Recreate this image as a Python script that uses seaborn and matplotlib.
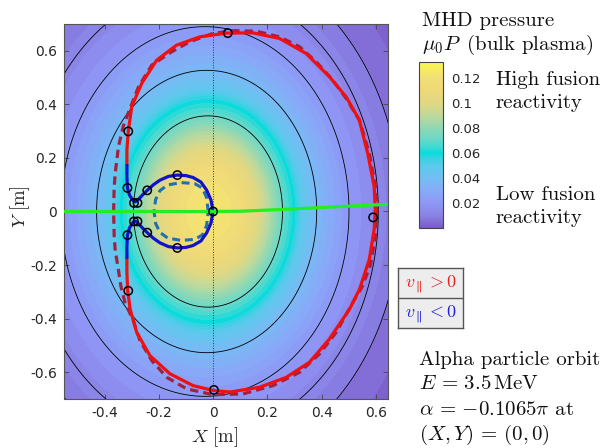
import numpy as np
import matplotlib
matplotlib.use("Agg")
import matplotlib.pyplot as plt
from matplotlib.colors import LinearSegmentedColormap, Normalize
from matplotlib.cm import ScalarMappable
import seaborn as sns

# ---------------- data ----------------
x_ticks = [-0.4, -0.2, 0, 0.2, 0.4, 0.6]
x_tick_labels = ["-0.4", "-0.2", "0", "0.2", "0.4", "0.6"]
y_ticks = [-0.6, -0.4, -0.2, 0, 0.2, 0.4, 0.6]
y_tick_labels = ["-0.6", "-0.4", "-0.2", "0", "0.2", "0.4", "0.6"]
cbar_ticks = [0.02, 0.04, 0.06, 0.08, 0.1, 0.12]
cbar_tick_labels = ["0.02", "0.04", "0.06", "0.08", "0.1", "0.12"]

# bulk-plasma pressure vs flux-surface label (vertical half height, m)
profile_rho = [0.0, 0.08, 0.15, 0.22, 0.28, 0.33, 0.37, 0.41, 0.45, 0.50,
               0.55, 0.60, 0.67, 0.75, 0.84, 0.95, 1.10, 1.30]
profile_p = [0.124, 0.122, 0.115, 0.103, 0.090, 0.077, 0.068, 0.060, 0.049,
             0.040, 0.034, 0.029, 0.022, 0.017, 0.012, 0.007, 0.003, 0.0]
# flux surfaces drawn as black lines (vertical half heights, m)
surface_levels = [0.357, 0.527, 0.69, 0.84, 0.955]
surface_elong = 0.77            # horizontal / vertical semi-axis ratio
surface_shift = [-0.015, -0.032]  # centre = c0 + c2 * rho^2

# orbit, v_par > 0 part (red)
red_x = [-0.318, -0.318, -0.315, -0.306, -0.282, -0.233, -0.159, -0.074, 0.0,
         0.061, 0.172, 0.270, 0.355, 0.429, 0.503, 0.540, 0.576, 0.594, 0.598,
         0.594, 0.570, 0.539, 0.490, 0.429, 0.343, 0.245, 0.147, 0.049, -0.049,
         -0.135, -0.208, -0.263, -0.300, -0.313, -0.318, -0.318]
red_y = [-0.172, -0.230, -0.296, -0.365, -0.451, -0.538, -0.606, -0.650, -0.668,
         -0.674, -0.656, -0.619, -0.563, -0.476, -0.365, -0.290, -0.179, -0.067,
         0.007, 0.094, 0.218, 0.342, 0.429, 0.503, 0.590, 0.646, 0.667, 0.666,
         0.652, 0.621, 0.565, 0.479, 0.392, 0.299, 0.230, 0.172]
# orbit, v_par < 0 part (blue)
blue_x = [-0.318, -0.318, -0.316, -0.308, -0.296, -0.287, -0.275, -0.260, -0.243,
          -0.220, -0.196, -0.165, -0.132, -0.100, -0.074, -0.045, -0.024, -0.008,
          0.0, -0.008, -0.024, -0.045, -0.074, -0.100, -0.132, -0.165, -0.196,
          -0.220, -0.243, -0.260, -0.275, -0.287, -0.296, -0.308, -0.316, -0.318,
          -0.318]
blue_y = [0.172, 0.130, 0.088, 0.060, 0.042, 0.036, 0.046, 0.062, 0.079, 0.100,
          0.117, 0.131, 0.136, 0.134, 0.127, 0.110, 0.080, 0.043, 0.0, -0.043,
          -0.080, -0.110, -0.127, -0.134, -0.136, -0.131, -0.117, -0.100, -0.079,
          -0.062, -0.046, -0.036, -0.042, -0.060, -0.088, -0.130, -0.172]
# dashed reference orbits
outer_dash_x = [-0.367, -0.365, -0.361, -0.349, -0.331, -0.306, -0.275, -0.226,
                -0.153, -0.086, 0.0, 0.08, 0.16, 0.245, 0.319, 0.38, 0.441, 0.49,
                0.54, 0.575, 0.598, 0.604, 0.598, 0.58, 0.55, 0.515, 0.454, 0.392,
                0.319, 0.221, 0.11, 0.0, -0.098, -0.171, -0.226, -0.27, -0.294,
                -0.325, -0.34, -0.352, -0.361, -0.365, -0.367]
outer_dash_y = [0.0, 0.09, 0.144, 0.243, 0.32, 0.386, 0.466, 0.547, 0.596, 0.634,
                0.665, 0.675, 0.673, 0.652, 0.615, 0.559, 0.491, 0.423, 0.34,
                0.22, 0.1, 0.0, -0.1, -0.2, -0.28, -0.34, -0.451, -0.532, -0.6,
                -0.65, -0.681, -0.684, -0.662, -0.619, -0.557, -0.482, -0.408,
                -0.34, -0.28, -0.2, -0.147, -0.09, 0.0]
inner_dash_x = [-0.018, -0.024, -0.040, -0.068, -0.118, -0.168, -0.196, -0.212,
                -0.218, -0.212, -0.196, -0.168, -0.118, -0.068, -0.040, -0.024,
                -0.018]
inner_dash_y = [0.0, 0.052, 0.088, 0.104, 0.108, 0.099, 0.078, 0.045, 0.0,
                -0.045, -0.078, -0.099, -0.108, -0.104, -0.088, -0.052, 0.0]
# alpha = const line (green)
green_x = [-0.55, 0.0, 0.10, 0.25, 0.40, 0.645]
green_y = [0.0, 0.0, 0.001, 0.0075, 0.015, 0.027]
# marker circles
circ_x = [0.054, 0.59, 0.003, -0.313, -0.313, -0.316, -0.316, -0.292, -0.279,
          -0.292, -0.279, -0.243, -0.243, -0.132, -0.132, 0.0]
circ_y = [0.666, -0.022, -0.666, 0.299, -0.296, 0.088, -0.088, 0.032, 0.032,
          -0.037, -0.037, 0.079, -0.079, 0.136, -0.136, 0.0]

# ---------------- style ----------------
sns.set_style("ticks")
plt.rcParams["mathtext.fontset"] = "cm"
plt.rcParams["font.family"] = ["DejaVu Sans"]
plt.rcParams["axes.unicode_minus"] = False

cmap = LinearSegmentedColormap.from_list("pres", [
    (0.000, "#7A5CC8"), (0.010 / 0.133, "#8A82E6"), (0.020 / 0.133, "#8E98F6"),
    (0.030 / 0.133, "#86ACF8"), (0.040 / 0.133, "#72BEF2"), (0.050 / 0.133, "#5ACAEC"),
    (0.056 / 0.133, "#36D2E2"), (0.060 / 0.133, "#06DCDC"), (0.064 / 0.133, "#38D9D4"),
    (0.070 / 0.133, "#64D8CA"), (0.080 / 0.133, "#90D8B4"), (0.090 / 0.133, "#BDD99C"),
    (0.100 / 0.133, "#E0D882"), (0.110 / 0.133, "#EED878"), (0.120 / 0.133, "#F2DE78"),
    (0.127 / 0.133, "#F6EA62"), (1.0, "#F8F84E")])
norm = Normalize(0.0, 0.133)

W, H = 616, 448
fig = plt.figure(figsize=(W / 100, H / 100), dpi=100)
ax = fig.add_axes([64 / W, 49 / H, 324 / W, 375 / H])

# field on a grid
gx = np.linspace(-0.57, 0.67, 420)
gy = np.linspace(-0.72, 0.72, 480)
GX, GY = np.meshgrid(gx, gy)
rho = np.hypot(GX / surface_elong, GY)
for _ in range(30):
    cen = surface_shift[0] + surface_shift[1] * rho ** 2
    rho = np.hypot((GX - cen) / surface_elong, GY)
P = np.interp(rho, profile_rho, profile_p)

ax.contourf(GX, GY, P, levels=np.linspace(0, 0.133, 40), cmap=cmap, norm=norm,
            antialiased=False, zorder=0)
ax.contour(GX, GY, rho, levels=surface_levels, colors="black", linewidths=0.6,
           zorder=1)
ax.axvline(0, color="#333333", lw=0.7, ls=(0, (1, 1.6)), zorder=2)

# dashed orbits
sns.lineplot(x=outer_dash_x, y=outer_dash_y, sort=False, estimator=None,
             color="#A32040", lw=2.3, ax=ax, legend=False, zorder=3)
ax.lines[-1].set_dashes([2.6, 1.6])
sns.lineplot(x=inner_dash_x, y=inner_dash_y, sort=False, estimator=None,
             color="#2070B0", lw=2.2, ax=ax, legend=False, zorder=3)
ax.lines[-1].set_dashes([2.6, 1.6])
# solid orbit
sns.lineplot(x=red_x, y=red_y, sort=False, estimator=None, color="#F01010",
             lw=2.3, ax=ax, legend=False, zorder=4)
sns.lineplot(x=blue_x, y=blue_y, sort=False, estimator=None, color="#1212CC",
             lw=2.3, ax=ax, legend=False, zorder=4)
sns.lineplot(x=green_x, y=green_y, sort=False, estimator=None, color="#22EE22",
             lw=2.3, ax=ax, legend=False, zorder=5)
ax.scatter(circ_x, circ_y, s=36, facecolors="none", edgecolors="black",
           linewidths=1.1, zorder=6)

ax.set_xlim(-0.55, 0.645)
ax.set_ylim(-0.70, 0.70)
ax.set_xticks(x_ticks)
ax.set_xticklabels(x_tick_labels)
ax.set_yticks(y_ticks)
ax.set_yticklabels(y_tick_labels)
ax.tick_params(direction="in", length=3.5, width=0.6, color="#444444",
               labelsize=10, labelcolor="#262626", top=True, right=True, pad=5)
for s in ax.spines.values():
    s.set_color("#555555")
    s.set_linewidth(0.8)
ax.set_xlabel(r"$X$ [m]", fontsize=13.5, family="cmr10", va="center")
ax.set_ylabel(r"$Y$ [m]", fontsize=13.5, family="cmr10")
ax.xaxis.set_label_coords(0.465, -0.102)
ax.yaxis.set_label_coords(-0.10, 0.512)

# colorbar
cax = fig.add_axes([419 / W, 1 - 228 / H, 24 / W, 166 / H])
cb = fig.colorbar(ScalarMappable(norm=norm, cmap=cmap), cax=cax)
cb.set_ticks(cbar_ticks)
cb.set_ticklabels(cbar_tick_labels)
cax.tick_params(direction="in", length=2.5, width=0.6, color="#333333",
                labelsize=9.5, labelcolor="#262626", pad=6)
cb.outline.set_edgecolor("#444444")
cb.outline.set_linewidth(0.8)


def px(x, y):
    return x / W, 1 - y / H


tkw = dict(family="cmr10", fontsize=15, color="#111111", va="baseline", ha="left")
fig.text(*px(422, 26), "MHD pressure", **tkw)
fig.text(*px(422, 50), r"$\mu_0P\,$ (bulk plasma)", **tkw)
fig.text(*px(496, 85), "High fusion", **tkw)
fig.text(*px(496, 108), "reactivity", **tkw)
fig.text(*px(496, 200), "Low fusion", **tkw)
fig.text(*px(496, 223), "reactivity", **tkw)
fig.text(*px(419, 365), "Alpha particle orbit", **tkw)
fig.text(*px(419, 389), r"$E\,=\,3.5\,\mathrm{MeV}$", **tkw)
fig.text(*px(419, 415), r"$\alpha\,=\,{-}0.1065\pi$ at", **tkw)
fig.text(*px(419, 440), r"$(X,Y)\,=\,(0,0)$", **tkw)

# legend box
lax = fig.add_axes([398 / W, 1 - 328 / H, 65 / W, 60 / H])
lax.set_facecolor("#EDEDED")
lax.set_xticks([])
lax.set_yticks([])
for s in lax.spines.values():
    s.set_color("#555555")
    s.set_linewidth(1.0)
lax.axhline(0.5, color="#555555", lw=1.0)
lax.set_xlim(0, 1)
lax.set_ylim(0, 1)
lax.text(0.5, 0.74, r"$v_{\parallel} > 0$", color="#E82020", fontsize=13,
         ha="center", va="center")
lax.text(0.5, 0.24, r"$v_{\parallel} < 0$", color="#2020D8", fontsize=13,
         ha="center", va="center")

fig.savefig("out.png", dpi=100)
